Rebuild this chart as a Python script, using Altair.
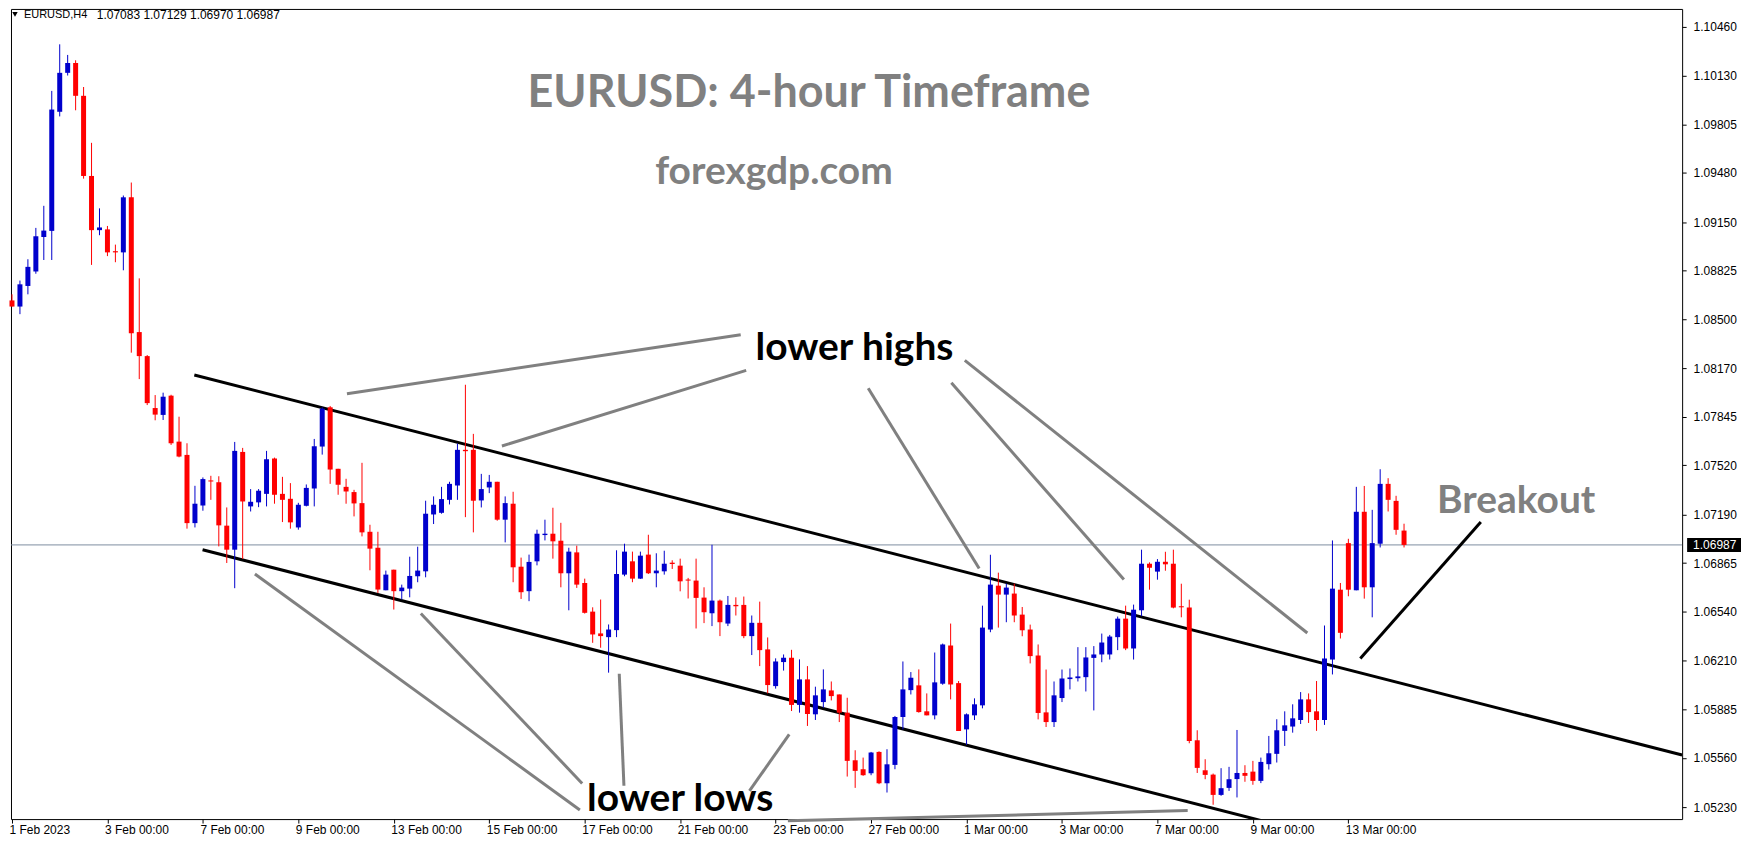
import altair as alt
import pandas as pd
import numpy as np

# ---- OHLC of the EURUSD H4 candles (bar 0 = 1 Feb 2023 00:00) ----
opens = [
    1.08625, 1.08584, 1.08722, 1.08819, 1.09050, 1.09091, 1.09889, 1.10150, 1.10216, 1.09996,
    1.09459, 1.09096, 1.09101, 1.08955, 1.08947, 1.09316, 1.08413, 1.08252, 1.07904, 1.07858,
    1.07987, 1.07679, 1.07590, 1.07133, 1.07251, 1.07419, 1.07407, 1.07116, 1.06955, 1.07610,
    1.07245, 1.07272, 1.07329, 1.07566, 1.07329, 1.07296, 1.07104, 1.07249, 1.07365, 1.07646,
    1.07909, 1.07497, 1.07376, 1.07341, 1.07267, 1.07075, 1.06968, 1.06683, 1.06821, 1.06677,
    1.06694, 1.06777, 1.06810, 1.07191, 1.07202, 1.07289, 1.07385, 1.07624, 1.07624, 1.07285,
    1.07372, 1.07410, 1.07156, 1.07263, 1.06841, 1.06677, 1.06877, 1.07053, 1.07062, 1.07015,
    1.06797, 1.06937, 1.06732, 1.06540, 1.06394, 1.06369, 1.06416, 1.06788, 1.06877, 1.06761,
    1.06922, 1.06797, 1.06810, 1.06868, 1.06848, 1.06755, 1.06748, 1.06634, 1.06529, 1.06614,
    1.06460, 1.06585, 1.06585, 1.06376, 1.06465, 1.06287, 1.06041, 1.06202, 1.06231, 1.05915,
    1.06086, 1.05852, 1.05934, 1.06012, 1.05985, 1.05863, 1.05544, 1.05484, 1.05457, 1.05600,
    1.05390, 1.05513, 1.05834, 1.06014, 1.06046, 1.05872, 1.05845, 1.06057, 1.06313, 1.06061,
    1.05751, 1.05845, 1.05912, 1.06420, 1.06714, 1.06654, 1.06661, 1.06520, 1.06420, 1.06246,
    1.05865, 1.05800, 1.05961, 1.06088, 1.06094, 1.06101, 1.06230, 1.06253, 1.06253, 1.06369,
    1.06493, 1.06293, 1.06549, 1.06861, 1.06808, 1.06874, 1.06861, 1.06576, 1.06567, 1.05678,
    1.05477, 1.05448, 1.05312, 1.05359, 1.05418, 1.05459, 1.05468, 1.05406, 1.05518, 1.05587,
    1.05741, 1.05770, 1.05814, 1.05952, 1.05872, 1.05814, 1.06219, 1.06687, 1.06999, 1.06683,
    1.07209, 1.06703, 1.06995, 1.07396, 1.07282, 1.07083,
]
highs = [
    1.08666, 1.08758, 1.08901, 1.09111, 1.09259, 1.10029, 1.10341, 1.10270, 1.10234, 1.10055,
    1.09681, 1.09242, 1.09124, 1.08999, 1.09328, 1.09415, 1.08773, 1.08259, 1.07991, 1.08007,
    1.07993, 1.07846, 1.07668, 1.07383, 1.07439, 1.07450, 1.07447, 1.07238, 1.07677, 1.07637,
    1.07361, 1.07361, 1.07617, 1.07572, 1.07443, 1.07401, 1.07269, 1.07392, 1.07697, 1.07909,
    1.07918, 1.07497, 1.07430, 1.07356, 1.07537, 1.07122, 1.07075, 1.06815, 1.06821, 1.06721,
    1.06908, 1.06975, 1.07283, 1.07312, 1.07376, 1.07410, 1.07666, 1.08060, 1.07731, 1.07463,
    1.07456, 1.07410, 1.07312, 1.07343, 1.06902, 1.06922, 1.07089, 1.07156, 1.07236, 1.07135,
    1.06968, 1.06982, 1.06761, 1.06569, 1.06621, 1.06454, 1.06951, 1.06995, 1.06942, 1.06942,
    1.07055, 1.06931, 1.06948, 1.06884, 1.06895, 1.06766, 1.06895, 1.06703, 1.06988, 1.06621,
    1.06645, 1.06636, 1.06641, 1.06514, 1.06607, 1.06367, 1.06227, 1.06253, 1.06284, 1.06220,
    1.06175, 1.06037, 1.06153, 1.06072, 1.05985, 1.05963, 1.05611, 1.05562, 1.05600, 1.05604,
    1.05618, 1.05841, 1.06206, 1.06135, 1.06153, 1.05992, 1.06266, 1.06326, 1.06460, 1.06075,
    1.05858, 1.05959, 1.06580, 1.06921, 1.06801, 1.06728, 1.06728, 1.06571, 1.06453, 1.06320,
    1.06152, 1.06072, 1.06152, 1.06159, 1.06302, 1.06302, 1.06309, 1.06393, 1.06384, 1.06507,
    1.06580, 1.06587, 1.06955, 1.06870, 1.06892, 1.06941, 1.06955, 1.06727, 1.06620, 1.05745,
    1.05551, 1.05455, 1.05491, 1.05500, 1.05747, 1.05511, 1.05540, 1.05562, 1.05707, 1.05819,
    1.05872, 1.05919, 1.06001, 1.05992, 1.06075, 1.06447, 1.07017, 1.06732, 1.07028, 1.07376,
    1.07382, 1.07222, 1.07494, 1.07434, 1.07316, 1.07129,
]
lows = [
    1.08584, 1.08533, 1.08666, 1.08804, 1.08896, 1.08896, 1.09858, 1.10132, 1.09899, 1.09441,
    1.08863, 1.09062, 1.08922, 1.08881, 1.08827, 1.08275, 1.08098, 1.07924, 1.07822, 1.07824,
    1.07657, 1.07574, 1.07096, 1.07104, 1.07216, 1.07289, 1.06977, 1.06866, 1.06697, 1.06893,
    1.07211, 1.07240, 1.07245, 1.07263, 1.07140, 1.07096, 1.07089, 1.07245, 1.07245, 1.07592,
    1.07396, 1.07323, 1.07263, 1.07178, 1.07044, 1.06817, 1.06665, 1.06683, 1.06554, 1.06621,
    1.06636, 1.06737, 1.06770, 1.07127, 1.07196, 1.07258, 1.07289, 1.07173, 1.07071, 1.07238,
    1.07334, 1.07149, 1.07004, 1.06737, 1.06625, 1.06610, 1.06850, 1.07017, 1.06895, 1.06703,
    1.06549, 1.06699, 1.06527, 1.06331, 1.06298, 1.06131, 1.06369, 1.06777, 1.06737, 1.06759,
    1.06792, 1.06703, 1.06788, 1.06826, 1.06676, 1.06628, 1.06427, 1.06463, 1.06443, 1.06376,
    1.06443, 1.06514, 1.06362, 1.06249, 1.06175, 1.05992, 1.06024, 1.06145, 1.05874, 1.05863,
    1.05774, 1.05814, 1.05896, 1.05945, 1.05800, 1.05435, 1.05359, 1.05440, 1.05444, 1.05384,
    1.05328, 1.05484, 1.05751, 1.05985, 1.05863, 1.05845, 1.05818, 1.06050, 1.05952, 1.05740,
    1.05647, 1.05814, 1.05892, 1.06402, 1.06433, 1.06469, 1.06469, 1.06375, 1.06193, 1.05818,
    1.05767, 1.05767, 1.05934, 1.06019, 1.06072, 1.06005, 1.05878, 1.06201, 1.06219, 1.06282,
    1.06282, 1.06219, 1.06509, 1.06687, 1.06754, 1.06814, 1.06562, 1.06502, 1.05658, 1.05459,
    1.05417, 1.05246, 1.05306, 1.05339, 1.05295, 1.05400, 1.05380, 1.05391, 1.05482, 1.05529,
    1.05640, 1.05729, 1.05787, 1.05794, 1.05741, 1.05781, 1.06119, 1.06360, 1.06643, 1.06683,
    1.06627, 1.06502, 1.06970, 1.07211, 1.07055, 1.06970,
]
closes = [
    1.08584, 1.08733, 1.08850, 1.09055, 1.09093, 1.09904, 1.10150, 1.10216, 1.09996, 1.09459,
    1.09096, 1.09114, 1.08947, 1.08947, 1.09316, 1.08405, 1.08252, 1.07937, 1.07860, 1.07980,
    1.07668, 1.07579, 1.07133, 1.07263, 1.07428, 1.07412, 1.07118, 1.06955, 1.07617, 1.07278,
    1.07276, 1.07350, 1.07561, 1.07323, 1.07289, 1.07138, 1.07256, 1.07369, 1.07648, 1.07900,
    1.07492, 1.07390, 1.07345, 1.07265, 1.07071, 1.06962, 1.06688, 1.06788, 1.06677, 1.06701,
    1.06779, 1.06815, 1.07196, 1.07256, 1.07294, 1.07396, 1.07624, 1.07615, 1.07283, 1.07361,
    1.07410, 1.07156, 1.07267, 1.06837, 1.06670, 1.06873, 1.07062, 1.07062, 1.07011, 1.06797,
    1.06942, 1.06721, 1.06532, 1.06387, 1.06376, 1.06420, 1.06792, 1.06942, 1.06761, 1.06915,
    1.06797, 1.06815, 1.06861, 1.06859, 1.06743, 1.06748, 1.06632, 1.06536, 1.06614, 1.06469,
    1.06585, 1.06576, 1.06376, 1.06465, 1.06282, 1.06048, 1.06206, 1.06231, 1.05915, 1.06086,
    1.05854, 1.05979, 1.06019, 1.05974, 1.05863, 1.05540, 1.05473, 1.05444, 1.05596, 1.05390,
    1.05517, 1.05834, 1.06019, 1.06097, 1.05867, 1.05845, 1.06066, 1.06320, 1.06052, 1.05740,
    1.05852, 1.05919, 1.06433, 1.06721, 1.06654, 1.06701, 1.06514, 1.06415, 1.06242, 1.05861,
    1.05800, 1.05979, 1.06092, 1.06099, 1.06106, 1.06233, 1.06253, 1.06333, 1.06373, 1.06493,
    1.06293, 1.06553, 1.06861, 1.06834, 1.06874, 1.06857, 1.06567, 1.06569, 1.05673, 1.05493,
    1.05446, 1.05312, 1.05357, 1.05417, 1.05459, 1.05440, 1.05406, 1.05533, 1.05591, 1.05745,
    1.05778, 1.05825, 1.05952, 1.05867, 1.05814, 1.06226, 1.06694, 1.06398, 1.06687, 1.07209,
    1.06703, 1.06999, 1.07396, 1.07289, 1.07088, 1.06987,
]

# x-axis tick labels (every 12 H4 bars = 2 trading days)
xtick_bars = [0, 12, 24, 36, 48, 60, 72, 84, 96, 108, 120, 132, 144, 156, 168]
xtick_labels = ["1 Feb 2023", "3 Feb 00:00", "7 Feb 00:00", "9 Feb 00:00", "13 Feb 00:00",
                "15 Feb 00:00", "17 Feb 00:00", "21 Feb 00:00", "23 Feb 00:00", "27 Feb 00:00",
                "1 Mar 00:00", "3 Mar 00:00", "7 Mar 00:00", "9 Mar 00:00", "13 Mar 00:00"]
# y-axis price labels
ytick_vals = [1.05230, 1.05560, 1.05885, 1.06210, 1.06540, 1.06865, 1.07190, 1.07520,
              1.07845, 1.08170, 1.08500, 1.08825, 1.09150, 1.09480, 1.09805, 1.10130, 1.10460]
last_price = 1.06987
header_symbol = "EURUSD,H4"
header_ohlc = "1.07083 1.07129 1.06970 1.06987"

# channel / breakout lines (bar index, price)
black_x1 = [22.92, 23.96, 169.5]
black_y1 = [1.08125, 1.06955, 1.06226]
black_x2 = [209.96, 162.09, 184.65]
black_y2 = [1.05579, 1.05071, 1.07140]
# grey pointer lines
grey_x1 = [42.11, 61.59, 107.64, 118.09, 119.78, 30.54, 51.40, 76.34, 97.71, 97.54]
grey_y1 = [1.08000, 1.07650, 1.08037, 1.08074, 1.08223, 1.06792, 1.06527, 1.06124, 1.05718, 1.05139]
grey_x2 = [91.61, 92.30, 121.59, 139.78, 162.84, 71.39, 71.68, 76.93, 92.71, 147.80]
grey_y2 = [1.08395, 1.08156, 1.06829, 1.06755, 1.06397, 1.05211, 1.05389, 1.05373, 1.05339, 1.05207]

assert len(opens) == len(highs) == len(lows) == len(closes) == 176

W, H = 1675, 812
BLUE, RED, GREY = "#0000CC", "#FF0000", "#808080"
AXFONT = "Liberation Sans"

df = pd.DataFrame({"bar": np.arange(len(opens)), "open": opens, "high": highs,
                   "low": lows, "close": closes})
df["dir"] = np.where(df["close"] >= df["open"], "up", "down")

xs = alt.Scale(domain=[-0.125, 209.96], nice=False, zero=False)
ys = alt.Scale(domain=[1.05150, 1.10578], nice=False, zero=False)

lab_arr = "[" + ",".join("'%s'" % s for s in xtick_labels) + "]"
val_arr = "[" + ",".join(str(v) for v in xtick_bars) + "]"
xaxis = alt.Axis(values=xtick_bars, labelExpr=f"{lab_arr}[indexof({val_arr}, datum.value)]",
                 title=None, grid=False, domain=False, ticks=True, tickColor="black",
                 tickSize=4, labelAlign="left", labelBaseline="top", labelFont=AXFONT,
                 labelFontSize=12, labelColor="black", labelPadding=1, labelOffset=-3,
                 labelFlush=False, labelOverlap=False, labelBound=False)
yaxis = alt.Axis(orient="right", values=ytick_vals, format=".5f", title=None, grid=False,
                 domain=False, ticks=True, tickColor="black", tickSize=4, labelFont=AXFONT,
                 labelFontSize=12, labelColor="black", labelPadding=7, labelAlign="left",
                 labelBaseline="middle", labelFlush=False, labelOverlap=False)

def X(f):
    return alt.X(f, scale=xs, axis=xaxis)

def Y(f):
    return alt.Y(f, scale=ys, axis=yaxis)

color = alt.Color("dir:N", scale=alt.Scale(domain=["up", "down"], range=[BLUE, RED]), legend=None)

base = alt.Chart(df)
wicks = base.mark_rule(strokeWidth=1).encode(x=X("bar:Q"), y=Y("low:Q"), y2="high", color=color)
bodies = base.mark_rule(strokeWidth=5, strokeCap="butt").encode(
    x=X("bar:Q"), y=Y("open:Q"), y2="close", color=color)

price_df = pd.DataFrame({"p": [last_price], "t": ["%.5f" % last_price]})
price_line = alt.Chart(price_df).mark_rule(color="#7d8ea0", strokeWidth=1).encode(y=Y("p:Q"))
price_box = alt.Chart(price_df).mark_rect(color="black", yOffset=-7, y2Offset=7).encode(
    x=alt.value(1680), x2=alt.value(1734), y=Y("p:Q"), y2="p")
price_txt = alt.Chart(price_df).mark_text(color="white", align="left", baseline="middle",
                                          font=AXFONT, fontSize=12).encode(
    x=alt.value(1686), y=Y("p:Q"), text="t:N")

grey_df = pd.DataFrame({"x1": grey_x1, "y1": grey_y1, "x2": grey_x2, "y2": grey_y2})
grey_lines = alt.Chart(grey_df).mark_rule(color=GREY, strokeWidth=3).encode(
    x=X("x1:Q"), y=Y("y1:Q"), x2="x2", y2="y2")
black_df = pd.DataFrame({"x1": black_x1, "y1": black_y1, "x2": black_x2, "y2": black_y2})
black_lines = alt.Chart(black_df).mark_rule(color="black", strokeWidth=3, clip=True).encode(
    x=X("x1:Q"), y=Y("y1:Q"), x2="x2", y2="y2")

def label(x, y, s, col, size):
    d = pd.DataFrame({"x": [x], "y": [y], "t": [s]})
    return alt.Chart(d).mark_text(align="center", baseline="alphabetic", font="Lato",
                                  fontWeight="bold", fontSize=size, color=col).encode(
        x=X("x:Q"), y=Y("y:Q"), text="t:N")

texts = [
    label(100.19, 1.09923, "EURUSD: 4-hour Timeframe", GREY, 45),
    label(95.79, 1.09402, "forexgdp.com", GREY, 39),
    label(105.91, 1.08225, "lower highs", "black", 39),
    label(84.0, 1.05203, "lower lows", "black", 39),
    label(189.1, 1.07202, "Breakout", GREY, 39),
]

hdr_df = pd.DataFrame({"a": [header_symbol], "b": [header_ohlc]})
hdr_tri = alt.Chart(hdr_df).mark_point(shape="triangle-down", filled=True, size=30,
                                       color="black", opacity=1).encode(
    x=alt.value(4), y=alt.value(5.5))
hdr1 = alt.Chart(hdr_df).mark_text(align="left", baseline="middle", font=AXFONT,
                                   fontSize=11, color="black").encode(
    x=alt.value(13), y=alt.value(6), text="a:N")
hdr2 = alt.Chart(hdr_df).mark_text(align="left", baseline="middle", font=AXFONT,
                                   fontSize=12, color="black").encode(
    x=alt.value(86), y=alt.value(6), text="b:N")

chart = alt.layer(
    price_line, grey_lines, black_lines, wicks, bodies, *texts,
    price_box, price_txt, hdr_tri, hdr1, hdr2,
).properties(width=W, height=H, padding=0, background="white").configure_view(
    stroke="black", strokeWidth=1
).configure_axis(grid=False)

chart.save("out.html", embed_options={"renderer": "svg", "actions": False})
